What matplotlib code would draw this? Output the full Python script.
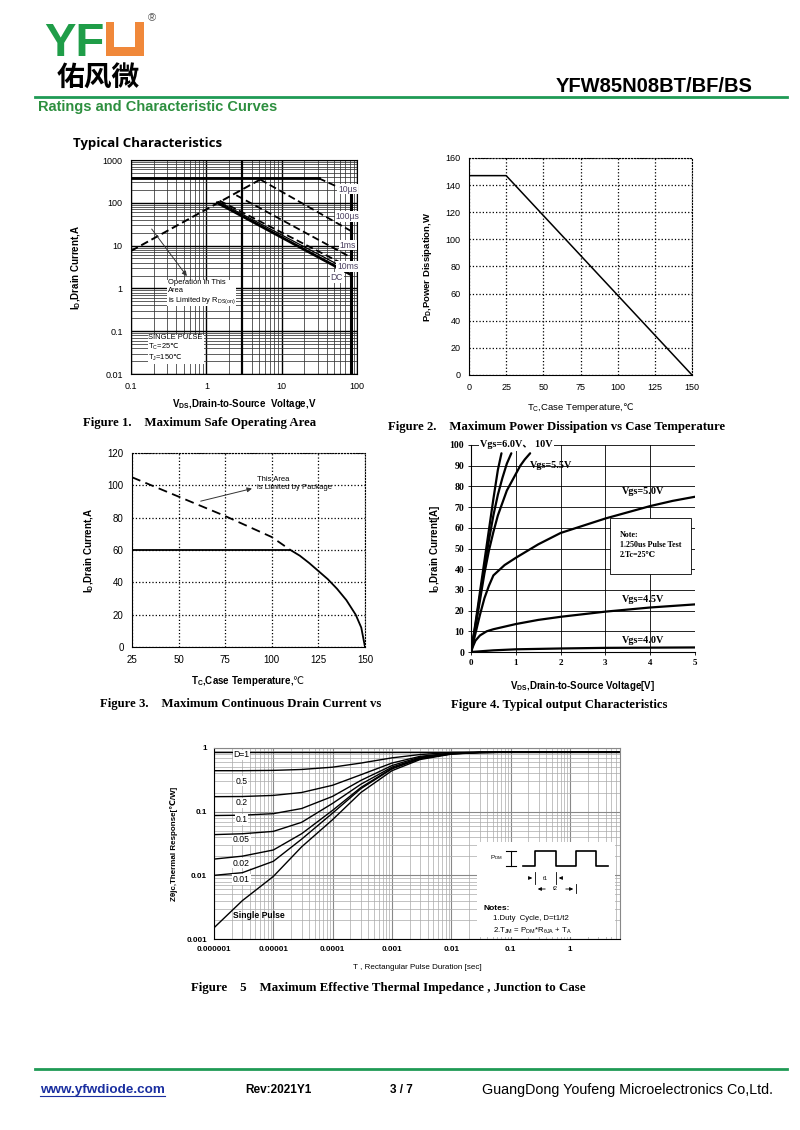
import numpy as np
import matplotlib
matplotlib.use('Agg')
import matplotlib.pyplot as plt
from matplotlib.ticker import LogLocator, FuncFormatter, NullFormatter, FixedLocator
from matplotlib.patches import Rectangle

plt.rcParams['font.family'] = ['Liberation Sans', 'DejaVu Sans']
plt.rcParams['axes.linewidth'] = 0.8
plt.rcParams['mathtext.fontset'] = 'dejavusans'

# ---------------- data ----------------
# Fig 1 SOA
soa_rds_v = [0.1, 5.2]
soa_rds_i = [7.5, 350]
soa_lim_v = [0.1, 31]
soa_lim_i = [375, 375]
soa_10us_v = [31, 54]
soa_10us_i = [375, 240]
soa_vmax_v = [83, 83]
soa_vmax_i = [150, 0.01]
soa_100us_v = [5.2, 83]
soa_100us_i = [350, 22]
soa_1ms_v = [2.5, 83]
soa_1ms_i = [150, 5.3]
soa_10ms_v = [1.5, 83]
soa_10ms_i = [112, 3.0]
soa_thin_v = [1.45, 83]
soa_thin_i = [106, 2.5]
soa_dc_v = [1.4, 83]
soa_dc_i = [100, 2.1]
soa_xticks = [0.1, 1, 10, 100]
soa_yticks = [0.01, 0.1, 1, 10, 100, 1000]

# Fig 2 power dissipation
pd_t = [0, 25, 150]
pd_w = [147, 147, 0]

# Fig 3 drain current vs Tc
id_t = [25, 50, 75, 100, 110, 115, 120, 125, 130, 135, 140, 145, 148, 150]
id_a = [60, 60, 60, 60, 60, 56.5, 52, 47, 42, 36, 29, 20, 12, 0]
pkg_t = [25, 50, 75, 100, 110]
pkg_a = [105, 93, 81, 68, 60]

# Fig 4 output characteristics
v10_v = [0, 0.1, 0.2, 0.3, 0.4, 0.5, 0.6, 0.68]
v10_i = [0, 14, 29, 44, 59, 74, 88, 96]
v6_v = [0, 0.1, 0.2, 0.3, 0.4, 0.5, 0.6, 0.7, 0.8, 0.9]
v6_i = [0, 13, 27, 41, 54, 66, 76, 84, 91, 96]
v55_v = [0, 0.1, 0.2, 0.3, 0.4, 0.5, 0.6, 0.7, 0.8, 0.9, 1.0, 1.1, 1.2, 1.32]
v55_i = [0, 12, 25, 38, 49, 58, 66, 72, 78, 82, 86, 90, 93, 96]
v50_v = [0, 0.1, 0.2, 0.3, 0.4, 0.5, 0.75, 1.0, 1.5, 2.0, 2.5, 3.0, 3.5, 4.0, 4.5, 5.0]
v50_i = [0, 9, 18, 26, 32, 37, 42, 45.5, 52, 57.5, 61, 64.5, 67.5, 70.5, 73, 75]
v45_v = [0, 0.05, 0.1, 0.2, 0.35, 0.5, 1.0, 1.5, 2.0, 3.0, 4.0, 5.0]
v45_i = [0, 3, 5.5, 8, 10, 11, 13.5, 15.5, 17, 19.5, 21.5, 23]
v40_v = [0, 0.5, 1.0, 2.0, 3.0, 4.0, 5.0]
v40_i = [0, 0.8, 1.3, 1.7, 2.0, 2.1, 2.2]

# Fig 5 thermal impedance
zt_t = [1e-6, 3e-6, 1e-5, 3e-5, 1e-4, 3e-4, 1e-3, 3e-3, 1e-2, 3e-2, 1e-1, 7]
z_single = [0.0015, 0.0040, 0.0096, 0.028, 0.075, 0.20, 0.44, 0.66, 0.80, 0.85, 0.86, 0.86]
z_001 = [0.010, 0.011, 0.0166, 0.037, 0.095, 0.23, 0.47, 0.68, 0.81, 0.85, 0.86, 0.86]
z_002 = [0.018, 0.020, 0.025, 0.045, 0.105, 0.24, 0.48, 0.69, 0.81, 0.85, 0.86, 0.86]
z_005 = [0.0436, 0.045, 0.049, 0.068, 0.135, 0.27, 0.50, 0.70, 0.82, 0.85, 0.86, 0.86]
z_01 = [0.087, 0.088, 0.093, 0.112, 0.174, 0.31, 0.53, 0.72, 0.82, 0.85, 0.86, 0.86]
z_02 = [0.172, 0.173, 0.18, 0.20, 0.26, 0.38, 0.58, 0.74, 0.83, 0.86, 0.86, 0.86]
z_05 = [0.44, 0.44, 0.445, 0.46, 0.50, 0.58, 0.70, 0.79, 0.85, 0.86, 0.86, 0.86]
z_1 = [0.86] * 12
zt_xticks = [1e-6, 1e-5, 1e-4, 1e-3, 1e-2, 1e-1, 1]
zt_xlabels = ['0.000001', '0.00001', '0.0001', '0.001', '0.01', '0.1', '1']
zt_yticks = [0.001, 0.01, 0.1, 1]
zt_ylabels = ['0.001', '0.01', '0.1', '1']

# ---------------- figure ----------------
W, H = 800, 1130
fig = plt.figure(figsize=(8, 11.3), dpi=100)

def axpos(x0, y0, x1, y1):
    return [x0 / W, 1 - y1 / H, (x1 - x0) / W, (y1 - y0) / H]

SERIF = ['Liberation Serif', 'DejaVu Serif']
green = '#1f9a55'
DEG = '$\\mathrm{\u2103}$'

# ---- Fig 1 ----
ax1 = fig.add_axes(axpos(131, 160, 357, 374))
ax1.set_xscale('log'); ax1.set_yscale('log')
ax1.set_xlim(0.1, 100); ax1.set_ylim(0.01, 1000)
ax1.xaxis.set_major_locator(FixedLocator(soa_xticks))
ax1.yaxis.set_major_locator(FixedLocator(soa_yticks))
ax1.xaxis.set_minor_locator(LogLocator(10, subs=np.arange(2, 10)))
ax1.yaxis.set_minor_locator(LogLocator(10, subs=np.arange(2, 10)))
ax1.xaxis.set_minor_formatter(NullFormatter()); ax1.yaxis.set_minor_formatter(NullFormatter())
f = FuncFormatter(lambda v, p: '%g' % v)
ax1.xaxis.set_major_formatter(f); ax1.yaxis.set_major_formatter(f)
ax1.grid(which='major', color='black', lw=1.0)
ax1.grid(which='minor', color='#333333', lw=0.55)
ax1.axvline(3, color='black', lw=1.6)
ax1.tick_params(which='both', length=0, labelsize=6.5, pad=6)
ax1.plot(soa_lim_v, soa_lim_i, color='black', lw=2.0)
ax1.plot(soa_10us_v, soa_10us_i, color='black', lw=1.3, ls=(0, (4, 2)))
ax1.plot(soa_vmax_v, soa_vmax_i, color='black', lw=2.2)
ax1.plot(soa_rds_v, soa_rds_i, color='black', lw=1.4, ls=(0, (4, 2)))
ax1.plot(soa_100us_v, soa_100us_i, color='black', lw=1.3, ls=(0, (4, 2)))
ax1.plot(soa_1ms_v, soa_1ms_i, color='black', lw=1.3, ls=(0, (4, 2)))
ax1.plot(soa_10ms_v, soa_10ms_i, color='black', lw=1.3, ls=(0, (4, 2)))
ax1.plot(soa_thin_v, soa_thin_i, color='black', lw=0.9)
ax1.plot(soa_dc_v, soa_dc_i, color='black', lw=2.0)
lb = dict(facecolor='white', edgecolor='none', pad=0.6)
for txt, x, y in [('10µs', 75, 210), ('100µs', 75, 47), ('1ms', 75, 10.3), ('10ms', 75, 3.2)]:
    ax1.text(x, y, txt, fontsize=6.2, ha='center', va='center', color='#4a4060', bbox=lb)
ax1.text(54, 1.8, 'DC', fontsize=6.2, ha='center', va='center', color='#4a4060', bbox=lb)
ax1.text(0.31, 1.65, 'Operation in This\nArea\nis Limited by R$_{\\mathregular{DS(on)}}$', fontsize=5.4,
         ha='left', va='top', linespacing=1.15, bbox=lb)
ax1.annotate('', xy=(0.58, 1.72), xytext=(0.179, 27.5),
             arrowprops=dict(arrowstyle='-|>', color='#333', lw=0.7, mutation_scale=7))
ax1.text(0.17, 0.085, 'SINGLE PULSE\nT$_{\\mathregular{C}}$=25' + DEG + '\nT$_{\\mathregular{J}}$=150' + DEG,
         fontsize=5.4, ha='left', va='top', linespacing=1.1, bbox=lb)
ax1.set_ylabel('I$_{\\mathregular{D}}$,Drain Current,A', fontsize=7, fontweight='bold', labelpad=14)
ax1.set_xlabel('V$_{\\mathregular{DS}}$,Drain-to-Source  Voltage,V', fontsize=7, fontweight='bold', labelpad=4)

# ---- Fig 2 ----
ax2 = fig.add_axes(axpos(469, 158, 692, 375))
ax2.plot(pd_t, pd_w, color='black', lw=1.1)
ax2.set_xlim(0, 150); ax2.set_ylim(0, 160)
ax2.set_xticks(range(0, 151, 25)); ax2.set_yticks(range(0, 161, 20))
ax2.grid(color='black', ls=':', lw=0.9)
ax2.tick_params(length=0, labelsize=6.5, pad=6)
for s in ['top', 'right']:
    ax2.spines[s].set_linestyle(':')
ax2.set_ylabel('P$_{\\mathregular{D}}$,Power Dissipation,W', fontsize=6.8, fontweight='bold', labelpad=8)
ax2.set_xlabel('T$_{\\mathregular{C}}$,Case Temperature,' + DEG, fontsize=6.8, labelpad=6)

# ---- Fig 3 ----
ax3 = fig.add_axes(axpos(132, 453, 365, 647))
ax3.plot(id_t, id_a, color='black', lw=1.3)
ax3.plot(pkg_t, pkg_a, color='black', lw=1.3, ls=(0, (5, 3)))
ax3.set_xlim(25, 150); ax3.set_ylim(0, 120)
ax3.set_xticks(range(25, 151, 25)); ax3.set_yticks(range(0, 121, 20))
ax3.grid(color='black', ls=':', lw=0.9)
ax3.tick_params(length=0, labelsize=7, pad=6)
for s in ['top', 'right']:
    ax3.spines[s].set_linestyle(':')
ax3.text(92, 101, 'This Area\nis Limited by Package', fontsize=5.5, ha='left', va='center', linespacing=1.1)
ax3.annotate('', xy=(90.8, 98.4), xytext=(60.4, 89.8),
             arrowprops=dict(arrowstyle='-|>', color='#333', lw=0.7, mutation_scale=7))
ax3.set_ylabel('I$_{\\mathregular{D}}$,Drain Current,A', fontsize=7, fontweight='bold', labelpad=8)
ax3.set_xlabel('T$_{\\mathregular{C}}$,Case Temperature,' + DEG, fontsize=7, fontweight='bold', labelpad=6)

# ---- Fig 4 ----
ax4 = fig.add_axes(axpos(471, 445, 695, 652))
for vv, ii in [(v10_v, v10_i), (v6_v, v6_i), (v55_v, v55_i), (v50_v, v50_i), (v45_v, v45_i), (v40_v, v40_i)]:
    ax4.plot(vv, ii, color='black', lw=1.6, solid_capstyle='round')
ax4.set_xlim(0, 5); ax4.set_ylim(0, 100)
ax4.set_xticks(range(0, 6)); ax4.set_yticks(range(0, 101, 10))
ax4.grid(color='black', lw=0.6)
ax4.spines['top'].set_visible(False); ax4.spines['right'].set_visible(False)
ax4.tick_params(length=2, width=0.6, labelsize=6.5, pad=3)
for t in ax4.get_xticklabels() + ax4.get_yticklabels():
    t.set_fontfamily(SERIF); t.set_fontweight('bold')
for t in ax4.get_yticklabels():
    t.set_fontsize(7)
wb = dict(facecolor='white', edgecolor='none', pad=0.8)
lab4 = dict(fontsize=7.3, fontweight='bold', family=SERIF, va='center')
ax4.text(0.2, 100, 'Vgs=6.0V\u3001 10V', ha='left', bbox=wb, **dict(lab4, family=['Liberation Serif', 'Noto Sans CJK SC']))
ax4.text(1.31, 90, 'Vgs=5.5V', ha='left', **lab4)
ax4.text(3.36, 77.5, 'Vgs=5.0V', ha='left', **lab4)
ax4.text(3.36, 25.5, 'Vgs=4.5V', ha='left', **lab4)
ax4.text(3.36, 5.5, 'Vgs=4.0V', ha='left', **lab4)
ax4.add_patch(Rectangle((3.1, 37.6), 1.82, 27, facecolor='white', edgecolor='black', lw=0.6, zorder=3))
ax4.text(3.32, 58.5, 'Note:\n1.250us Pulse Test\n2.Tc=25\u2103', fontsize=5.8, fontweight='bold',
         family=['Liberation Serif', 'DejaVu Serif'], ha='left', va='top', linespacing=1.35, zorder=4)
ax4.set_ylabel('I$_{\\mathregular{D}}$,Drain Current[A]', fontsize=7, fontweight='bold', labelpad=5)
ax4.set_xlabel('V$_{\\mathregular{DS}}$,Drain-to-Source Voltage[V]', fontsize=7, fontweight='bold', labelpad=9)

# ---- Fig 5 ----
ax5 = fig.add_axes(axpos(214, 748, 620, 939))
ax5.set_xscale('log'); ax5.set_yscale('log')
for z in [z_single, z_001, z_002, z_005, z_01, z_02, z_05, z_1]:
    ax5.plot(zt_t, z, color='black', lw=1.0)
ax5.set_xlim(1e-6, 7); ax5.set_ylim(0.001, 1)
ax5.xaxis.set_major_locator(FixedLocator(zt_xticks))
ax5.yaxis.set_major_locator(FixedLocator(zt_yticks))
ax5.set_xticklabels(zt_xlabels); ax5.set_yticklabels(zt_ylabels)
ax5.xaxis.set_minor_locator(LogLocator(10, subs=np.arange(2, 10)))
ax5.yaxis.set_minor_locator(LogLocator(10, subs=np.arange(2, 10)))
ax5.xaxis.set_minor_formatter(NullFormatter()); ax5.yaxis.set_minor_formatter(NullFormatter())
ax5.grid(which='major', color='#888888', lw=0.8)
ax5.grid(which='minor', color='#aaaaaa', lw=0.5)
ax5.tick_params(which='both', length=0, labelsize=5.8, pad=5)
for t in ax5.get_xticklabels() + ax5.get_yticklabels():
    t.set_fontweight('bold')
for s in ['top', 'right']:
    ax5.spines[s].set_color('#888888')
lb5 = dict(facecolor='white', edgecolor='none', pad=0.5)
for txt, y in [('D=1', 0.78), ('0.5', 0.30), ('0.2', 0.137), ('0.1', 0.075), ('0.05', 0.036), ('0.02', 0.0156), ('0.01', 0.0086)]:
    ax5.text(2.9e-6, y, txt, fontsize=6.2, ha='center', va='center', bbox=lb5)
ax5.text(2.1e-6, 0.0023, 'Single Pulse', fontsize=6.2, fontweight='bold', ha='left', va='center')
ax5.set_ylabel('Z\u03b8jc,Thermal Response[\u2103/W]', fontsize=5.8, fontweight='bold', labelpad=6)
ax5.set_xlabel('T , Rectangular Pulse Duration [sec]', fontsize=5.8, labelpad=8)

# ---- overlay (page decoration) ----
ov = fig.add_axes([0, 0, 1, 1], zorder=10)
ov.set_xlim(0, W); ov.set_ylim(H, 0); ov.axis('off')
# logo
ov.text(44, 56, 'YF', fontsize=34, fontweight='bold', color='#1f9d48', ha='left', va='baseline')
ov.add_patch(Rectangle((106, 22), 38, 34, facecolor='#f0883a', edgecolor='none'))
ov.add_patch(Rectangle((114, 22), 21, 25, facecolor='white', edgecolor='none'))
ov.text(152, 18, '\u00ae', fontsize=8, color='#555', ha='center', va='center')
ov.text(98, 78.5, '佑风微', fontsize=20, family=['Noto Sans CJK SC'], fontweight='bold', ha='center', va='center')
ov.text(753, 92, 'YFW85N08BT/BF/BS', fontsize=14.5, fontweight='bold', ha='right', va='baseline')
ov.plot([35, 787], [96.5, 96.5], color=green, lw=2.0)
ov.text(38, 107, 'Ratings and Characteristic Curves', fontsize=10.5, fontweight='bold', color='#2d8f3f',
        ha='left', va='center')
ov.text(73, 144, 'Typical Characteristics', fontsize=9.5, fontweight='bold', family=['Open Sans', 'DejaVu Sans'],
        ha='left', va='center')
# captions
cap = dict(fontsize=9.2, fontweight='bold', family=SERIF, ha='left', va='center')
ov.text(83, 423, 'Figure 1.    Maximum Safe Operating Area', **cap)
ov.text(388, 427, 'Figure 2.    Maximum Power Dissipation vs Case Temperature', **cap)
ov.text(100, 704, 'Figure 3.    Maximum Continuous Drain Current vs', **cap)
ov.text(451, 705, 'Figure 4. Typical output Characteristics', **cap)
ov.text(191, 988, 'Figure    5    Maximum Effective Thermal Impedance , Junction to Case', **dict(cap, fontsize=9.3))
# inset in fig 5
ov.add_patch(Rectangle((477, 842), 138, 95, facecolor='white', edgecolor='none'))
ov.plot([523, 535, 535, 556, 556, 576, 576, 596, 596, 608],
        [866, 866, 851, 851, 866, 866, 851, 851, 866, 866], color='black', lw=1.2)
ov.plot([511, 511], [851, 866], color='black', lw=0.8)
ov.plot([506, 516], [851, 851], color='black', lw=0.8)
ov.plot([506, 516], [866, 866], color='black', lw=0.8)
ov.text(503, 858, 'P$_{\\mathregular{DM}}$', fontsize=4.5, ha='right', va='center')
ov.plot([535, 535], [872, 884], color='black', lw=0.6)
ov.plot([556, 556], [872, 884], color='black', lw=0.6)
ov.plot([576, 576], [884, 893], color='black', lw=0.6)
ov.annotate('', xy=(535, 878), xytext=(527, 878), arrowprops=dict(arrowstyle='-|>', lw=0.6, mutation_scale=5, color='black'))
ov.annotate('', xy=(556, 878), xytext=(564, 878), arrowprops=dict(arrowstyle='-|>', lw=0.6, mutation_scale=5, color='black'))
ov.text(545, 878, 't1', fontsize=4.2, ha='center', va='center')
ov.annotate('', xy=(535, 889), xytext=(548, 889), arrowprops=dict(arrowstyle='-|>', lw=0.6, mutation_scale=5, color='black'))
ov.annotate('', xy=(576, 889), xytext=(563, 889), arrowprops=dict(arrowstyle='-|>', lw=0.6, mutation_scale=5, color='black'))
ov.text(555, 889, 't2', fontsize=4.2, ha='center', va='center')
ov.text(484, 908, 'Notes:', fontsize=6, fontweight='bold', ha='left', va='center')
ov.text(493, 919, '1.Duty  Cycle, D=t1/t2', fontsize=5.6, ha='left', va='center')
ov.text(493, 931, '2.T$_{\\mathregular{JM}}$ = P$_{\\mathregular{DM}}$*R$_{\\mathregular{\u03b8JA}}$ + T$_{\\mathregular{A}}$',
        fontsize=5.6, ha='left', va='center')
# footer
ov.plot([35, 787], [1069, 1069], color=green, lw=2.0)
ov.text(40, 1090, 'www.yfwdiode.com', fontsize=9.7, fontweight='bold', color='#1a2fa0', ha='left', va='center')
ov.plot([40, 165], [1096, 1096], color='#1a2fa0', lw=0.8)
ov.text(245, 1090, 'Rev:2021Y1', fontsize=8.5, fontweight='bold', ha='left', va='center')
ov.text(390, 1090, '3 / 7', fontsize=8.5, fontweight='bold', ha='left', va='center')
ov.text(482, 1090, 'GuangDong Youfeng Microelectronics Co,Ltd.', fontsize=10.3, ha='left', va='center')

fig.savefig('out.png', dpi=100)
